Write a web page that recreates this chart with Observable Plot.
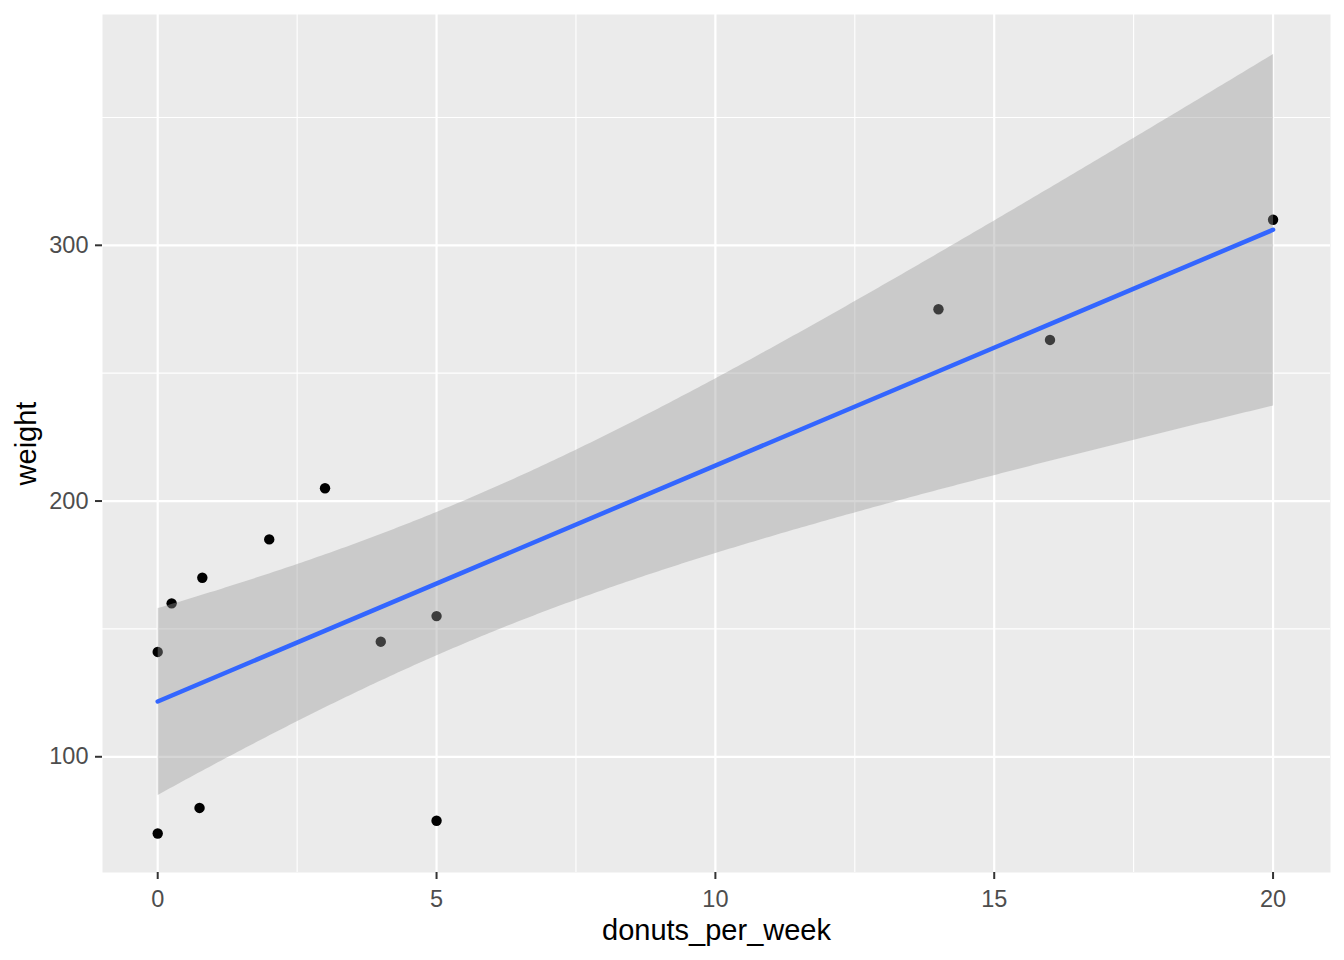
<!DOCTYPE html>
<html><head><meta charset="utf-8">
<script src="https://cdn.jsdelivr.net/npm/d3@7"></script>
<script src="https://cdn.jsdelivr.net/npm/@observablehq/plot@0.6"></script>
<style>body{margin:0;background:#fff;}</style>
</head><body><div id="chart"></div>
<script>
const donutsPerWeek = [0, 0, 0.25, 0.75, 0.8, 2, 3, 4, 5, 5, 14, 16, 20];
const weight = [141, 70, 160, 80, 170, 185, 205, 145, 155, 75, 275, 263, 310];
const xTicks = [0, 5, 10, 15, 20];
const xMinor = [2.5, 7.5, 12.5, 17.5];
const yTicks = [100, 200, 300];
const yMinor = [150, 250, 350];
const xTitle = "donuts_per_week";
const yTitle = "weight";

const data = donutsPerWeek.map((d, i) => ({donuts_per_week: d, weight: weight[i]}));

const chart = Plot.plot({
  width: 1344,
  height: 960,
  marginLeft: 102,
  marginRight: 14,
  marginTop: 14,
  marginBottom: 88,
  style: {fontFamily: "'Liberation Sans', Arial, sans-serif", background: "white", color: "black"},
  x: {domain: [-0.99, 21.03]},
  y: {domain: [54.75, 390.25]},
  marks: [
    Plot.frame({fill: "#EBEBEB", stroke: "none"}),
    Plot.gridX(xMinor, {stroke: "white", strokeOpacity: 1, strokeWidth: 1.1}),
    Plot.gridY(yMinor, {stroke: "white", strokeOpacity: 1, strokeWidth: 1.1}),
    Plot.gridX(xTicks, {stroke: "white", strokeOpacity: 1, strokeWidth: 2.2}),
    Plot.gridY(yTicks, {stroke: "white", strokeOpacity: 1, strokeWidth: 2.2}),
    Plot.dot(data, {x: "donuts_per_week", y: "weight", r: 5.2, fill: "black", stroke: "none"}),
    Plot.linearRegressionY(data, {
      x: "donuts_per_week", y: "weight", ci: 0.95,
      stroke: "#3366FF", strokeWidth: 4.5, fill: "#999999", fillOpacity: 0.4
    }),
    Plot.axisX(xTicks, {tickSize: 7, tickPadding: 11, fontSize: 23.5, stroke: "#333333", fill: "#4D4D4D", strokeWidth: 2, label: null}),
    Plot.axisY(yTicks, {tickSize: 7, tickPadding: 7, fontSize: 23.5, stroke: "#333333", fill: "#4D4D4D", strokeWidth: 2, label: null}),
    Plot.text([xTitle], {frameAnchor: "bottom", lineAnchor: "middle", textAnchor: "middle", dy: 58.2, fontSize: 29, fill: "black"}),
    Plot.text([yTitle], {frameAnchor: "left", lineAnchor: "middle", textAnchor: "middle", dx: -75.5, rotate: -90, fontSize: 29, fill: "black"})
  ]
});
document.getElementById("chart").appendChild(chart);
</script>
</body></html>
